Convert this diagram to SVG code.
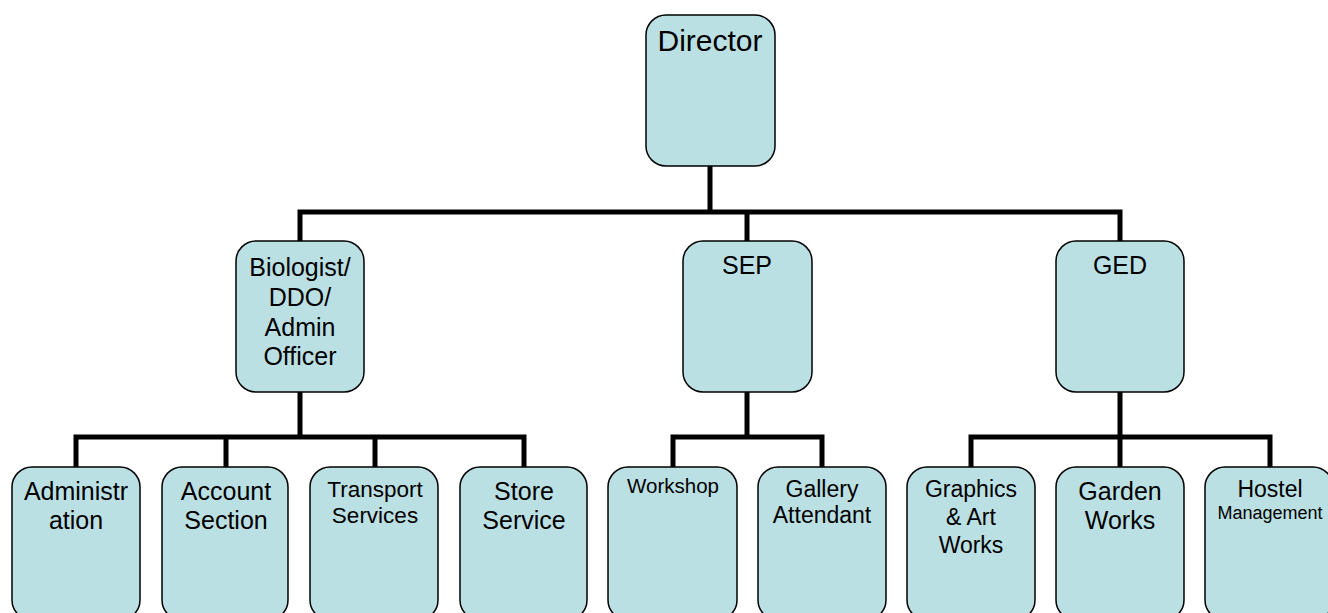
<svg xmlns="http://www.w3.org/2000/svg" width="1328" height="613" viewBox="0 0 1328 613">
<style>
.box{fill:#BBE0E3;stroke:#000;stroke-width:1.5}
.t{font-family:"Liberation Sans",Arial,sans-serif;fill:#000;text-anchor:middle}
.c{fill:none;stroke:#000;stroke-width:5;stroke-linejoin:miter;stroke-linecap:square}
</style>
<rect width="1328" height="613" fill="#fff"/>
<g id="connectors">
<path class="c" d="M710,166 V212 M300,212 H1120 M300,212 V241 M747,212 V241 M1120,212 V241"/>
<path class="c" d="M300,392 V437 M76,437 H524 M76,437 V467 M226,437 V467 M375,437 V467 M524,437 V467"/>
<path class="c" d="M747,392 V437 M673,437 H822 M673,437 V467 M822,437 V467"/>
<path class="c" d="M1120,392 V437 M971,437 H1270 M971,437 V467 M1120,437 V467 M1270,437 V467"/>
</g>
<g id="director"><rect class="box" x="646" y="15" width="129" height="151" rx="20"/><text class="t" x="710" y="51" font-size="30">Director</text></g>
<g id="biologist"><rect class="box" x="236" y="241" width="128" height="151" rx="20"/><text class="t" font-size="25"><tspan x="300" y="276">Biologist/</tspan><tspan x="300" y="306">DDO/</tspan><tspan x="300" y="336">Admin</tspan><tspan x="300" y="365">Officer</tspan></text></g>
<g id="sep"><rect class="box" x="683" y="241" width="129" height="151" rx="20"/><text class="t" x="747" y="274" font-size="25">SEP</text></g>
<g id="ged"><rect class="box" x="1056" y="241" width="128" height="151" rx="20"/><text class="t" x="1120" y="274" font-size="25">GED</text></g>
<g id="administration"><rect class="box" x="12" y="467" width="128" height="153" rx="20"/><text class="t" font-size="25"><tspan x="76" y="500">Administr</tspan><tspan x="76" y="529">ation</tspan></text></g>
<g id="account"><rect class="box" x="162" y="467" width="126" height="153" rx="20"/><text class="t" font-size="25"><tspan x="226" y="500">Account</tspan><tspan x="226" y="529">Section</tspan></text></g>
<g id="transport"><rect class="box" x="310" y="467" width="128" height="153" rx="20"/><text class="t" font-size="22.5"><tspan x="375" y="497">Transport</tspan><tspan x="375" y="523">Services</tspan></text></g>
<g id="store"><rect class="box" x="460" y="467" width="127" height="153" rx="20"/><text class="t" font-size="25"><tspan x="524" y="500">Store</tspan><tspan x="524" y="529">Service</tspan></text></g>
<g id="workshop"><rect class="box" x="608" y="467" width="129" height="153" rx="20"/><text class="t" x="673" y="493" font-size="20.5">Workshop</text></g>
<g id="gallery"><rect class="box" x="758" y="467" width="128" height="153" rx="20"/><text class="t" font-size="23"><tspan x="822" y="497">Gallery</tspan><tspan x="822" y="523">Attendant</tspan></text></g>
<g id="graphics"><rect class="box" x="907" y="467" width="128" height="153" rx="20"/><text class="t" font-size="23"><tspan x="971" y="497">Graphics</tspan><tspan x="971" y="525">&amp; Art</tspan><tspan x="971" y="553">Works</tspan></text></g>
<g id="garden"><rect class="box" x="1056" y="467" width="128" height="153" rx="20"/><text class="t" font-size="25"><tspan x="1120" y="500">Garden</tspan><tspan x="1120" y="529">Works</tspan></text></g>
<g id="hostel"><rect class="box" x="1205" y="467" width="128" height="153" rx="20"/><text class="t" font-size="23"><tspan x="1270" y="497">Hostel</tspan></text><text class="t" x="1270" y="519" font-size="18">Management</text></g>
</svg>
